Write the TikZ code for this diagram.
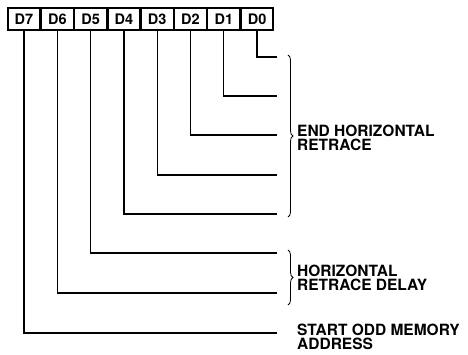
\documentclass[tikz,border=0pt]{standalone}
\usepackage{fontspec}
\setmainfont{TeX Gyre Heros}
\usetikzlibrary{positioning,decorations.pathreplacing}

\begin{document}
\begin{tikzpicture}[
    x=1pt, y=-1pt,
    bitbox/.style={draw, rectangle, line width=1.3pt, minimum width=32pt, minimum height=22pt, inner sep=0pt, font=\fontsize{14.5}{14.5}\selectfont\bfseries},
    bitline/.style={line width=1.3pt},
    curly/.style={decorate, decoration={brace, amplitude=5pt, aspect=0.5}, line width=0.8pt},
    caption/.style={anchor=west, align=left, inner sep=0pt, font=\fontsize{15.5}{14.5}\selectfont\bfseries}
]
\useasboundingbox (0,0) rectangle (468,355);

% Register bits
\node[bitbox] (d7) at (24,19) {D7};
\foreach \b [evaluate=\b as \p using int(\b+1)] in {6,...,0}
  \node[bitbox, right=0pt of d\p] (d\b) {D\b};

% Bit lines
\foreach \b/\y in {0/57,1/96,2/135,3/175,4/214,5/253,6/293,7/333} {
  \coordinate (e\b) at (277,\y);
  \draw[bitline] (d\b.south) |- (e\b);
}

% Braces
\coordinate (b1top) at (288,55);
\coordinate (b1bot) at (288,217);
\coordinate (b2top) at (288,250);
\coordinate (b2bot) at (288,305);
\draw[curly] (b1top) -- (b1bot);
\draw[curly] (b2top) -- (b2bot);

% Labels
\node[caption] (endret) at (297,138) {END HORIZONTAL\\RETRACE};
\node[caption] (hdelay) at (297,278) {HORIZONTAL\\RETRACE DELAY};
\node[caption] (startodd) at (297,337) {START ODD MEMORY\\ADDRESS};
\end{tikzpicture}
\end{document}
